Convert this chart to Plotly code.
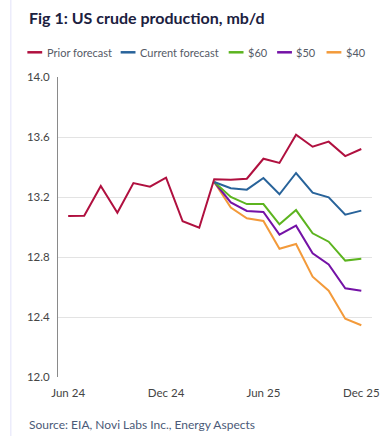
import plotly.graph_objects as go
import pandas as pd

# ---- data ----
prior_dates = pd.date_range("2024-06-01", "2025-12-01", freq="MS")
prior_forecast = [13.073, 13.075, 13.273, 13.095, 13.293, 13.269, 13.329, 13.038, 12.995,
                  13.318, 13.315, 13.322, 13.455, 13.427, 13.615, 13.535, 13.569, 13.473, 13.52]
scen_dates = pd.date_range("2025-03-01", "2025-12-01", freq="MS")
current_forecast = [13.30, 13.258, 13.249, 13.327, 13.218, 13.36, 13.229, 13.198, 13.082, 13.109]
price_60 = [13.30, 13.20, 13.153, 13.153, 13.018, 13.113, 12.958, 12.902, 12.776, 12.789]
price_50 = [13.30, 13.164, 13.107, 13.10, 12.949, 13.009, 12.825, 12.751, 12.591, 12.575]
price_40 = [13.30, 13.129, 13.058, 13.04, 12.855, 12.887, 12.669, 12.575, 12.389, 12.345]

series_names = ["Prior forecast", "Current forecast", "$60", "$50", "$40"]
series_colors = ["#b0103f", "#28639a", "#5cb41f", "#7412a6", "#f39a3a"]

tick_vals = ["2024-06-01", "2024-12-01", "2025-06-01", "2025-12-01"]
tick_text = ["Jun 24", "Dec 24", "Jun 25", "Dec 25"]
y_ticks = [12.0, 12.4, 12.8, 13.2, 13.6, 14.0]

FONT = "Lato"
W, H = 391, 436
L, R, T, B = 58.3, 376, 77, 377

def px_x(px):
    return (px - L) / (R - L)

def px_y(py):
    return (B - py) / (B - T)

fig = go.Figure()
scen = [(series_names[4], price_40, series_colors[4]),
        (series_names[3], price_50, series_colors[3]),
        (series_names[2], price_60, series_colors[2]),
        (series_names[1], current_forecast, series_colors[1])]
for name, vals, col in scen:
    fig.add_trace(go.Scatter(x=scen_dates, y=vals, mode="lines", name=name,
                             line=dict(color=col, width=2), showlegend=False))
fig.add_trace(go.Scatter(x=prior_dates, y=prior_forecast, mode="lines", name=series_names[0],
                         line=dict(color=series_colors[0], width=2), showlegend=False))

# manual legend
leg_x = [27.3, 121.7, 231, 280, 330]
shapes = []
annotations = []
for i, (nm, col) in enumerate(zip(series_names, series_colors)):
    x0 = leg_x[i]
    shapes.append(dict(type="line", xref="paper", yref="paper",
                       x0=px_x(x0), x1=px_x(x0 + 15), y0=px_y(52.3), y1=px_y(52.3),
                       line=dict(color=col, width=2.5)))
    annotations.append(dict(text=nm, xref="paper", yref="paper", x=px_x(x0 + 17.5), y=px_y(52.3),
                            xanchor="left", yanchor="middle", showarrow=False,
                            font=dict(family=FONT, size=11, color="#555a66")))

# faint left border
shapes.append(dict(type="line", xref="paper", yref="paper", x0=px_x(10.5), x1=px_x(10.5),
                   y0=px_y(436), y1=px_y(0), line=dict(color="#ececfb", width=1.5)))

annotations.append(dict(text="Fig 1: US crude production, mb/d", xref="paper", yref="paper",
                        x=px_x(26.5), y=px_y(17), xanchor="left", yanchor="middle", showarrow=False,
                        font=dict(family=FONT, size=16, color="#1b2140", weight="bold")))
annotations.append(dict(text="Source: EIA, Novi Labs Inc., Energy Aspects", xref="paper", yref="paper",
                        x=px_x(26.5), y=px_y(424), xanchor="left", yanchor="middle", showarrow=False,
                        font=dict(family=FONT, size=12, color="#4b5a78")))

fig.update_layout(
    width=W, height=H,
    margin=dict(l=L, r=W - R, t=T, b=H - B),
    paper_bgcolor="white", plot_bgcolor="white",
    showlegend=False,
    shapes=shapes, annotations=annotations,
    xaxis=dict(range=["2024-05-13", "2025-12-21"], tickvals=tick_vals, ticktext=tick_text,
               showgrid=False, showline=False, zeroline=False, ticks="",
               tickfont=dict(family=FONT, size=11.5, color="#444"), ticklabelstandoff=7),
    yaxis=dict(range=[12.0, 14.0], tickvals=y_ticks, ticktext=[f"{v:.1f}" for v in y_ticks],
               showgrid=True, gridcolor="#e3e3e3", gridwidth=1, showline=True, linecolor="#8a8a8a",
               linewidth=1, zeroline=False, ticks="",
               tickfont=dict(family=FONT, size=11.5, color="#444"), ticklabelstandoff=5),
)

fig.write_html("out.html", config={"displayModeBar": False},
               post_script="document.body.style.margin='0';document.body.style.overflow='hidden';")
